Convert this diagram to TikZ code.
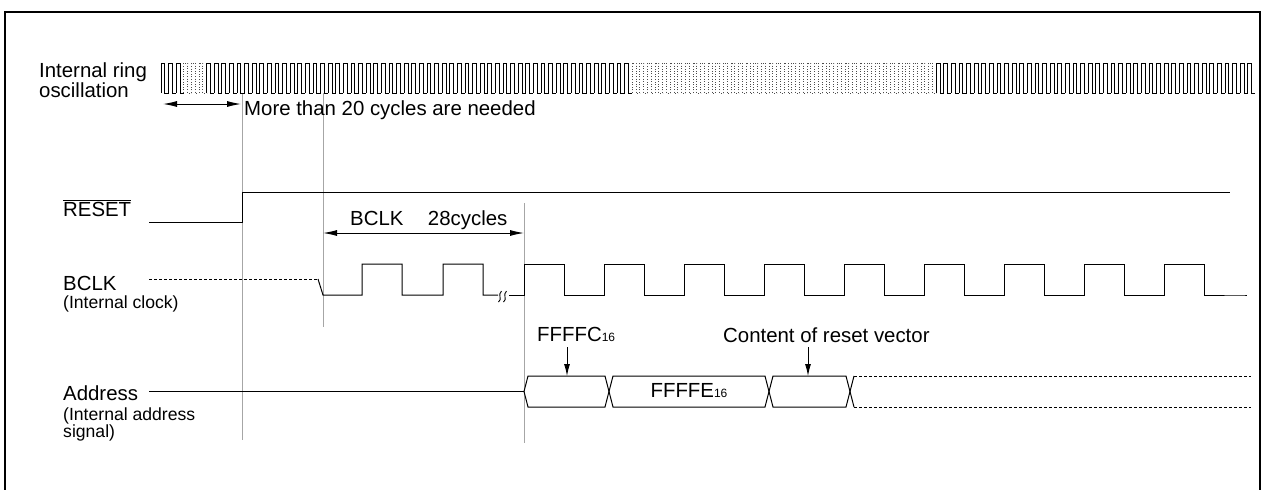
\documentclass[tikz,border=0pt]{standalone}
\usepackage{fontspec}
\setmainfont{Liberation Sans}
\usetikzlibrary{arrows.meta}
\newcommand\hexsub[1]{{\fontsize{12}{12}\selectfont#1}}
\tikzset{
  lbl/.style={font=\fontsize{20.4}{24}\selectfont, inner sep=0pt, anchor=base west},
  sublbl/.style={lbl, font=\fontsize{17.6}{20}\selectfont},
  sig/.style={line width=1pt},
  osc/.style={line width=0.7pt},
  oscdot/.style={line width=0.7pt, black!70, dash pattern=on 1pt off 1.6pt},
  guide/.style={black!35, line width=0.8pt},
  dim/.style={{Latex[length=14pt,width=6pt]}-{Latex[length=14pt,width=6pt]}, line width=1pt},
  ptr/.style={-{Latex[length=12pt,width=6pt]}, line width=0.9pt},
  dotline/.style={sig, dash pattern=on 3pt off 2pt},
}
\begin{document}
\begin{tikzpicture}[x=1pt,y=-1pt]
		\useasboundingbox (0,0) rectangle (1262,490);
		\draw[line width=1.6pt] (5,490) -- (5,12) -- (1260,12) -- (1260,490);
		
		% guide lines
		\draw[guide] (242,93) -- (242,440);
		\draw[guide] (323,93) -- (323,327);
		\draw[guide] (524,203) -- (524,443);
		
		% labels
		\node[lbl] (ringlbl) at (39,77) {Internal ring};
		\node[lbl] (osclbl) at (39,97) {oscillation};
		\node[lbl] (needlbl) at (244,115) {More than 20 cycles are needed};
		\node[lbl] (rstlbl) at (63,216) {$\overline{\hbox{RESET}}$};
		\node[lbl] (cyclbl) at (350,225) {BCLK\hspace{1.2em}28cycles};
		\node[lbl] (bclklbl) at (63,290) {BCLK};
		\node[sublbl] (bclksub) at (63,308) {(Internal clock)};
		\node[lbl] (addrlbl) at (63,400) {Address};
		\node[sublbl] (addrsub1) at (63,420) {(Internal address};
		\node[sublbl] (addrsub2) at (63,437) {signal)};
		\node[lbl] (fclbl) at (537,341) {FFFFC\hexsub{16}};
		\node[lbl, anchor=center] (felbl) at (689,391) {FFFFE\hexsub{16}};
		\node[lbl] (crvlbl) at (723,342) {Content of reset vector};
		
		% ring oscillation
		\foreach \i in {0,...,143}{
			\pgfmathsetmacro\xa{161+7.6*\i}
			\def\pst{osc}
			\ifnum\i>2 \ifnum\i<6 \def\pst{oscdot}\fi\fi
			\ifnum\i>61 \ifnum\i<102 \def\pst{oscdot}\fi\fi
			\draw[\pst] (\xa,93) -- ++(0,-30) -- ++(3.8,0) -- ++(0,30) -- ++(3.8,0);
		}
		
		% arrows
		\coordinate (needL) at (163,104);
		\coordinate (needR) at (241,104);
		\draw[dim] (needL) -- (needR);
		\coordinate (cycL) at (323,233);
		\coordinate (cycR) at (524,233);
		\draw[dim] (cycL) -- (cycR);
		\coordinate (fcTop) at (567,347);
		\coordinate (fcTip) at (567,376);
		\draw[ptr] (fcTop) -- (fcTip);
		\coordinate (crvTop) at (808,347);
		\coordinate (crvTip) at (808,376);
		\draw[ptr] (crvTop) -- (crvTip);
		
		% RESET
		\draw[sig] (149,222) -- (242,222) -- (242,192) -- (1230,192);
		
		% BCLK
		\draw[dotline] (149,279) -- (318,279);
		\draw[sig] (318,279) -- (323,295) -- (362,295) -- (362,264) -- (402,264) -- (402,295)
			-- (443,295) -- (443,264) -- (483,264) -- (483,295) -- (498,295);
		\foreach \sx in {500,505}
			\draw[line width=0.9pt] (\sx-1.5,302) .. controls (\sx+3,299) and (\sx-3,295) .. (\sx+1.5,291);
		\draw[sig] (509,295) -- (524,295)
			\foreach \k in {0,...,8}{ -- (524+80*\k,264) -- (564+80*\k,264) -- (564+80*\k,295) -- (604+80*\k,295)}
			-- (1247,295);
		
		% Address
		\draw[sig] (149,391.5) -- (524,391.5);
		\foreach \xs/\xe in {524/609,609/769,769/850}
			\draw[sig] (\xs,391.5) -- (\xs+4,376) -- (\xe-4,376) -- (\xe,391.5) -- (\xe-4,407) -- (\xs+4,407) -- cycle;
		\draw[sig] (854,376) -- (850,391.5) -- (854,407);
		\draw[dotline] (854,376) -- (1251,376);
		\draw[dotline] (854,407) -- (1251,407);
\end{tikzpicture}
\end{document}
